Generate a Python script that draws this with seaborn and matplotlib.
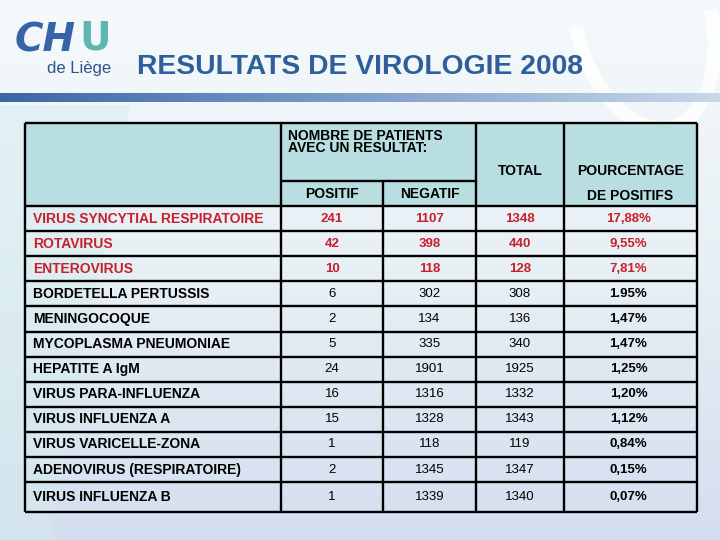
import matplotlib.pyplot as plt
import numpy as np
import seaborn as sns
from matplotlib.patches import Arc, Rectangle, Polygon

# ----------------- data -----------------
virus = ['VIRUS SYNCYTIAL RESPIRATOIRE', 'ROTAVIRUS', 'ENTEROVIRUS',
         'BORDETELLA PERTUSSIS', 'MENINGOCOQUE', 'MYCOPLASMA PNEUMONIAE',
         'HEPATITE A IgM', 'VIRUS PARA-INFLUENZA', 'VIRUS INFLUENZA A',
         'VIRUS VARICELLE-ZONA', 'ADENOVIRUS (RESPIRATOIRE)', 'VIRUS INFLUENZA B']
positif = [241, 42, 10, 6, 2, 5, 24, 16, 15, 1, 2, 1]
negatif = [1107, 398, 118, 302, 134, 335, 1901, 1316, 1328, 118, 1345, 1339]
total = [1348, 440, 128, 308, 136, 340, 1925, 1332, 1343, 119, 1347, 1340]
pourcentage = ['17,88%', '9,55%', '7,81%', '1.95%', '1,47%', '1,47%',
               '1,25%', '1,20%', '1,12%', '0,84%', '0,15%', '0,07%']
n_red = 3  # first rows highlighted in red

title = 'RESULTATS DE VIROLOGIE 2008'

# ----------------- style -----------------
sns.set_theme(style='white')
plt.rcParams['font.family'] = ['Liberation Sans', 'DejaVu Sans']

red = '#c91f2a'
blue = '#2f5e9c'
head_fill = '#b9dee1'

fig = plt.figure(figsize=(7.2, 5.4), dpi=100)
ax = fig.add_axes([0, 0, 1, 1])
ax.set_xlim(0, 720)
ax.set_ylim(540, 0)
ax.axis('off')

# slide background: soft vertical gradient
bg_cmap = sns.blend_palette(['#f5f9fb', '#e7f0f5', '#d4deef'], as_cmap=True)
grad = np.linspace(0, 1, 256).reshape(-1, 1)
ax.imshow(grad, cmap=bg_cmap, extent=[0, 720, 540, 0], aspect='auto', zorder=0)
# slightly cyan strip on the left
ax.add_patch(Polygon([[0, 105], [130, 105], [50, 540], [0, 540]],
                     closed=True, fc='#d3ecee', ec='none', alpha=0.45, zorder=0.5))

# decorative white arc on the top right
ax.add_patch(Arc((643, 18), 135, 225, angle=-15, theta1=8, theta2=188,
                 color='white', lw=10, alpha=0.8, zorder=1))

# header bar under the title
bar_cmap = sns.blend_palette(['#3a67a5', '#7f9fcb', '#c9d8e8'], as_cmap=True)
ax.imshow(np.linspace(0, 1, 256).reshape(1, -1), cmap=bar_cmap,
          extent=[0, 720, 102, 93], aspect='auto', zorder=1)

# logo and title
ax.text(15, 40, 'CH', fontsize=28, style='italic', weight='bold', color='#3763a9',
        family='DejaVu Sans', va='center', ha='left', zorder=2)
ax.text(79, 39, 'U', fontsize=28, weight='bold', color='#5db7ae', family='DejaVu Sans',
        va='center', ha='left', zorder=2)
ax.text(47, 69, 'de Liège', fontsize=12, color='#2d5591', va='center', ha='left', zorder=2)
ax.text(137, 67, title, fontsize=20.3, weight='bold', color=blue, va='center', ha='left', zorder=2)

# ----------------- table -----------------
cols_x = [25, 281, 383, 476, 564, 697]
head_top, head_mid, head_bot = 123, 181, 206
row_h = [25.1] * (len(virus) - 1) + [30]
row_edges = head_bot + np.concatenate([[0], np.cumsum(row_h)])
tab_bot = row_edges[-1]

ax.add_patch(Rectangle((cols_x[0], head_top), cols_x[-1] - cols_x[0], head_bot - head_top,
                       fc=head_fill, ec='none', zorder=2))

lw = 1.7
kw = dict(color='black', lw=lw, zorder=4)
ax.hlines([head_top, tab_bot], cols_x[0], cols_x[-1], **kw)
ax.hlines(row_edges[:-1], cols_x[0], cols_x[-1], **kw)
ax.hlines(head_mid, cols_x[1], cols_x[3], **kw)
ax.vlines([cols_x[0], cols_x[1], cols_x[3], cols_x[4], cols_x[5]], head_top, tab_bot, **kw)
ax.vlines(cols_x[2], head_mid, tab_bot, **kw)

# header texts
hk = dict(fontsize=10, weight='bold', color='black', va='center', zorder=5)
ax.text(288, 129.5, 'NOMBRE DE PATIENTS\nAVEC UN RESULTAT:', ha='left', linespacing=0.8,
        **{**hk, 'va': 'top'})
ax.text((cols_x[1] + cols_x[2]) / 2, 194, 'POSITIF', ha='center', **hk)
ax.text((cols_x[2] + cols_x[3]) / 2, 194, 'NEGATIF', ha='center', **hk)
ax.text((cols_x[3] + cols_x[4]) / 2, 171, 'TOTAL', ha='center', **hk)
ax.text((cols_x[4] + cols_x[5]) / 2, 171, 'POURCENTAGE', ha='center', **hk)
ax.text((cols_x[4] + cols_x[5]) / 2, 195.5, 'DE POSITIFS', ha='center', **hk)

# body rows
centers = [(cols_x[i] + cols_x[i + 1]) / 2 for i in range(1, 5)]
for i, name in enumerate(virus):
    y = (row_edges[i] + row_edges[i + 1]) / 2
    hot = i < n_red
    col = red if hot else 'black'
    num_w = 'bold' if hot else 'normal'
    ax.text(33, y, name, fontsize=10, weight='bold', color=col, ha='left', va='center', zorder=5)
    for cx, val in zip(centers[:3], [positif[i], negatif[i], total[i]]):
        ax.text(cx, y, str(val), fontsize=9.5, weight=num_w, color=col,
                ha='center', va='center', zorder=5)
    ax.text(centers[3] - 2, y, pourcentage[i], fontsize=9.5, weight='bold', color=col,
            ha='center', va='center', zorder=5)

fig.savefig('out.png', dpi=100)
